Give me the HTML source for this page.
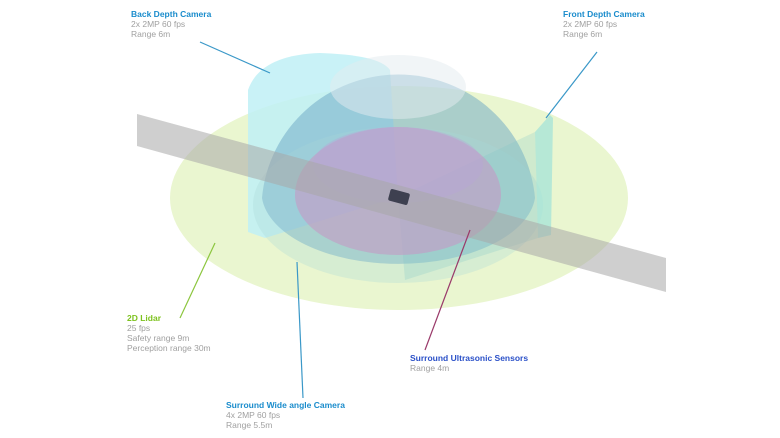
<!DOCTYPE html>
<html><head><meta charset="utf-8"><style>
html,body{margin:0;padding:0;background:#fff}
svg{display:block}
text{font-family:"Liberation Sans",Arial,sans-serif;font-size:8.5px}
.t{font-weight:bold}
.g{fill:#a0a0a0}
</style></head><body>
<svg width="780" height="438" viewBox="0 0 780 438" xmlns="http://www.w3.org/2000/svg">
<ellipse cx="399" cy="198" rx="229" ry="112" fill="#eaf6d0"/>
<path d="M248,90 Q260,55 320,53 Q380,55 390,70 L398,197 L265,238 L248,232 Z" fill="#bff0f6" opacity="0.85"/>
<path d="M262,198 A137,135 0 0 1 535,198 A137,72 0 0 1 262,198 Z" fill="#6aa6c4" opacity="0.5"/>
<ellipse cx="398" cy="87" rx="68" ry="32" fill="#e4ecef" opacity="0.5"/>
<ellipse cx="398" cy="205" rx="145" ry="78" fill="#a8d8d8" opacity="0.3"/>
<path d="M535,132 L550,115 L553,118 L551,235 L538,238 Z" fill="#9fe3d8" opacity="0.7"/>
<path d="M398,197 L535,132 L538,238 L405,280 Z" fill="#7ec8c8" opacity="0.25"/>
<path d="M295,195 A103,68 0 0 1 501,195 A103,60 0 0 1 295,195 Z" fill="#c49ac4" opacity="0.6"/>
<ellipse cx="398" cy="165" rx="85" ry="38" fill="#b8a6d6" opacity="0.4"/>
<polygon points="137,114 666,258 666,292 137,146" fill="#a8a8a8" opacity="0.55"/>
<rect x="389" y="191" width="20" height="12" rx="2" fill="#3e4050" transform="rotate(15 399 197)"/>
<line x1="200" y1="42" x2="270" y2="73" stroke="#3a98c8" stroke-width="1.2"/>
<line x1="597" y1="52" x2="546" y2="118" stroke="#3a98c8" stroke-width="1.2"/>
<line x1="215" y1="243" x2="180" y2="318" stroke="#8cc63e" stroke-width="1.2"/>
<line x1="297" y1="262" x2="303" y2="398" stroke="#3a98c8" stroke-width="1.2"/>
<line x1="470" y1="230" x2="425" y2="350" stroke="#9a3a6a" stroke-width="1.2"/>
<text x="131" y="17" class="t" fill="#1a8ccc">Back Depth Camera</text>
<text x="131" y="27" class="g">2x 2MP 60 fps</text>
<text x="131" y="37" class="g">Range 6m</text>
<text x="563" y="17" class="t" fill="#1a8ccc">Front Depth Camera</text>
<text x="563" y="27" class="g">2x 2MP 60 fps</text>
<text x="563" y="37" class="g">Range 6m</text>
<text x="127" y="321" class="t" fill="#7dc21e">2D Lidar</text>
<text x="127" y="331" class="g">25 fps</text>
<text x="127" y="341" class="g">Safety range 9m</text>
<text x="127" y="351" class="g">Perception range 30m</text>
<text x="410" y="361" class="t" fill="#2a50c8">Surround Ultrasonic Sensors</text>
<text x="410" y="371" class="g">Range 4m</text>
<text x="226" y="408" class="t" fill="#1a8ccc">Surround Wide angle Camera</text>
<text x="226" y="418" class="g">4x 2MP 60 fps</text>
<text x="226" y="428" class="g">Range 5.5m</text>
</svg>
</body></html>
